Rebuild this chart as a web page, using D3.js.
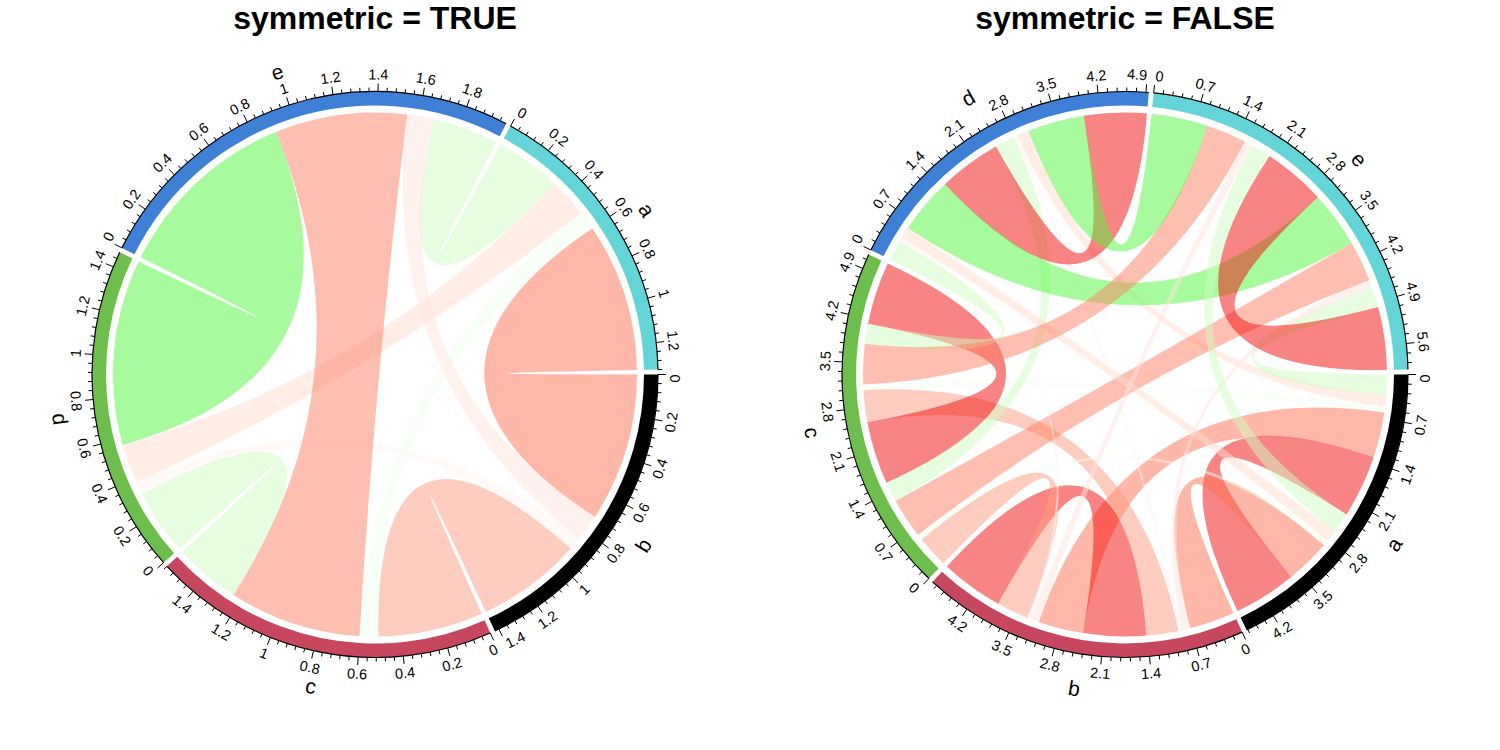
<!DOCTYPE html>
<html>
<head>
<meta charset="utf-8">
<script src="https://cdn.jsdelivr.net/npm/d3@7"></script>
<style>
  body { margin: 0; background: #ffffff; }
  text { font-family: "Liberation Sans", Arial, Helvetica, sans-serif; }
</style>
</head>
<body>
<script>
// ---------------- data ----------------
const sectorNames = ["a", "b", "c", "d", "e"];
// correlation matrix (rows / columns follow sectorNames)
const corA = [ 1.00,  0.72, -0.09,  0.19, -0.32];
const corB = [ 0.72,  1.00,  0.51,  0.06,  0.13];
const corC = [-0.09,  0.51,  1.00, -0.32,  0.64];
const corD = [ 0.19,  0.06, -0.32,  1.00, -0.90];
const corE = [-0.32,  0.13,  0.64, -0.90,  1.00];
const corMatrix = [corA, corB, corC, corD, corE];

// grid colours 1:5, assigned by sector position
const gridColors = ["#000000", "#C7475E", "#6CBF4C", "#3E80D5", "#63D5D8"];
const sectorOrderSymmetric = ["b", "c", "d", "e", "a"];
const sectorOrderFull = ["a", "b", "c", "d", "e"];
const panelTitles = ["symmetric = TRUE", "symmetric = FALSE"];

// ---------------- layout constants ----------------
const W = 1500, H = 750;
const panelCx = [375, 1125];
const cy = 374.5;
const gapDeg = 1;
const rLink = 262, rIn = 269, rOut = 283;
const rMajor = 291, rMinor = 287, rTickLab = 300, rName = 318;
const tickFont = 14.5, nameFont = 21;

const svg = d3.select("body").append("svg")
  .attr("width", W).attr("height", H)
  .attr("viewBox", `0 0 ${W} ${H}`);

const posColor = d3.interpolateLab("#FFFFFF", "#F20A0A");
const negColor = d3.interpolateLab("#FFFFFF", "#12F512");
function linkColor(v) { return v >= 0 ? posColor(Math.min(1, v)) : negColor(Math.min(1, -v)); }

const toRad = d => d * Math.PI / 180;
const toD3 = d => toRad(d + 90);      // clockwise-from-3-o'clock degrees -> d3 angle

function fmt(v) { return String(+v.toFixed(3)); }

function isFlipped(angDeg) {
  const norm = ((angDeg % 360) + 360) % 360;
  return norm > 0.001 && norm < 180;
}

// mode: "center" | "after" (text lies clockwise of the point) | "before"
function placeText(parent, angDeg, r, txt, size, mode) {
  const a = toRad(angDeg);
  const flip = isFlipped(angDeg);
  const rot = 90 + angDeg - (flip ? 180 : 0);
  let anchor = "middle";
  if (mode === "after") anchor = flip ? "end" : "start";
  if (mode === "before") anchor = flip ? "start" : "end";
  return parent.append("text")
    .attr("transform", `translate(${r * Math.cos(a)},${r * Math.sin(a)}) rotate(${rot})`)
    .attr("text-anchor", anchor)
    .attr("dominant-baseline", "central")
    .attr("font-size", size)
    .attr("fill", "#000")
    .text(txt);
}

function drawPanel(pi, symmetric, order) {
  const cx = panelCx[pi];
  const g = svg.append("g").attr("transform", `translate(${cx},${cy})`);
  const n = order.length;
  const pos = {}; order.forEach((s, i) => pos[s] = i);

  // links from matrix
  const links = [];
  sectorNames.forEach((rn, i) => {
    sectorNames.forEach((cn, j) => {
      if (symmetric) { if (i > j) links.push({ from: rn, to: cn, value: corMatrix[i][j] }); }
      else links.push({ from: rn, to: cn, value: corMatrix[i][j] });
    });
  });

  // sector widths
  const width = {}; order.forEach(s => width[s] = 0);
  links.forEach(l => { width[l.from] += Math.abs(l.value); width[l.to] += Math.abs(l.value); });
  const total = d3.sum(order, s => width[s]);
  const degPerUnit = (360 - n * gapDeg) / total;

  const sect = {};
  let cur = 0;
  order.forEach((s, i) => {
    const start = cur, end = cur + width[s] * degPerUnit;
    sect[s] = { start, end, color: gridColors[i],
      scale: d3.scaleLinear().domain([0, width[s]]).range([start, end]) };
    cur = end + gapDeg;
  });

  // link end positions inside each sector
  const dist = (s, o) => (pos[o] - pos[s] + n) % n;
  order.forEach(s => {
    let groups;
    const rowEnds = [], colEnds = [];
    links.forEach((l, k) => {
      if (l.from === s) rowEnds.push({ k, role: "from", other: l.to });
      if (l.to === s) colEnds.push({ k, role: "to", other: l.from });
    });
    const cmp = (p, q) => dist(s, q.other) - dist(s, p.other);
    if (symmetric) groups = [rowEnds.concat(colEnds).sort(cmp)];
    else groups = [rowEnds.sort(cmp), colEnds.sort(cmp)];
    let acc = 0;
    groups.forEach(gr => gr.forEach(e => {
      const v = Math.abs(links[e.k].value);
      links[e.k][e.role + "Range"] = [sect[s].scale(acc), sect[s].scale(acc + v)];
      acc += v;
    }));
  });

  // links
  const ribbon = d3.ribbon().radius(rLink);
  g.append("g").selectAll("path").data(links).join("path")
    .attr("d", l => ribbon({
      source: { startAngle: toD3(l.fromRange[0]), endAngle: toD3(l.fromRange[1]) },
      target: { startAngle: toD3(l.toRange[0]), endAngle: toD3(l.toRange[1]) }
    }))
    .attr("fill", l => linkColor(l.value))
    .attr("fill-opacity", 0.5)
    .attr("stroke", "none");

  // grid track
  const arc = d3.arc().innerRadius(rIn).outerRadius(rOut);
  g.append("g").selectAll("path").data(order).join("path")
    .attr("d", s => arc({ startAngle: toD3(sect[s].start), endAngle: toD3(sect[s].end) }))
    .attr("fill", s => sect[s].color);

  // axes
  const mbRaw = 10 / degPerUnit;
  const digits = Math.floor(Math.log10(mbRaw));
  const majorBy = Math.round(mbRaw / Math.pow(10, digits)) * Math.pow(10, digits);
  const ax = g.append("g");
  order.forEach(s => {
    const sc = sect[s].scale;
    const p = d3.path();
    p.arc(0, 0, rOut, toRad(sect[s].start), toRad(sect[s].end));
    ax.append("path").attr("d", p.toString()).attr("fill", "none")
      .attr("stroke", "#000").attr("stroke-width", 1.2);
    const majors = d3.range(0, width[s] + 1e-9, majorBy);
    const minors = [];
    for (let m = 0; m * majorBy / 5 <= width[s] + 1e-9; m++) if (m % 5) minors.push(m * majorBy / 5);
    const tick = (v, r2) => {
      const a = toRad(sc(v));
      ax.append("line")
        .attr("x1", rOut * Math.cos(a)).attr("y1", rOut * Math.sin(a))
        .attr("x2", r2 * Math.cos(a)).attr("y2", r2 * Math.sin(a))
        .attr("stroke", "#000").attr("stroke-width", 1);
    };
    minors.forEach(v => tick(v, rMinor));
    majors.forEach((v, idx) => {
      tick(v, rMajor);
      const t = placeText(ax, sc(v), rTickLab, fmt(v), tickFont, "center");
      const halfDeg = (t.node().getComputedTextLength() / 2) / rTickLab * 180 / Math.PI;
      if (idx === 0 && sc(v) - halfDeg < sect[s].start) {
        t.remove(); placeText(ax, sc(v), rTickLab, fmt(v), tickFont, "after");
      } else if (idx === majors.length - 1 && sc(v) + halfDeg > sect[s].end) {
        t.remove(); placeText(ax, sc(v), rTickLab, fmt(v), tickFont, "before");
      }
    });
    placeText(ax, (sect[s].start + sect[s].end) / 2, rName, s, nameFont, "center");
  });

  // title
  svg.append("text").attr("x", cx).attr("y", 29)
    .attr("text-anchor", "middle")
    .attr("font-size", 32).attr("font-weight", "bold")
    .attr("fill", "#000")
    .text(panelTitles[pi]);
}

drawPanel(0, true, sectorOrderSymmetric);
drawPanel(1, false, sectorOrderFull);
</script>
</body>
</html>
